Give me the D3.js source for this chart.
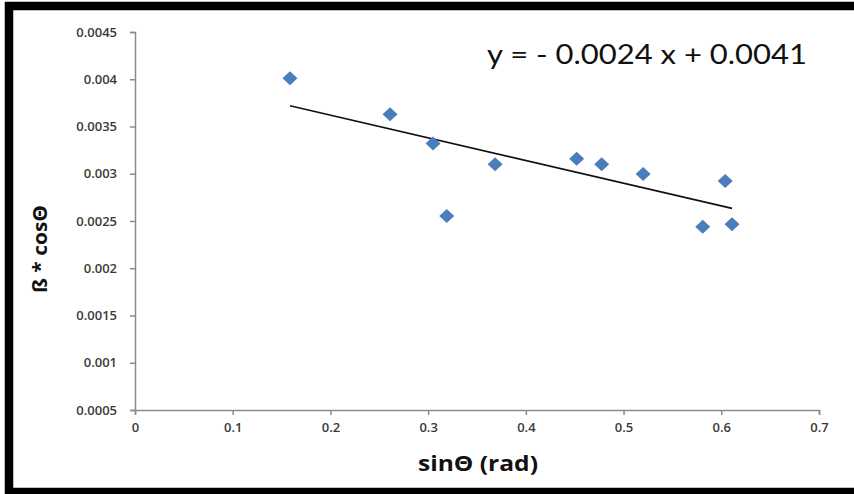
<!DOCTYPE html>
<html>
<head>
<meta charset="utf-8">
<script src="https://cdn.jsdelivr.net/npm/d3@7"></script>
<style>
  html, body { margin: 0; padding: 0; background: #fff; }
  svg { display: block; }
  .tick text { font-family: "Open Sans", sans-serif; font-size: 13px; font-weight: 600; fill: #3a3a3a; }
</style>
</head>
<body>
<svg id="chart" width="854" height="494"></svg>
<script>
// sinΘ values and the matching ß·cosΘ values
const sinTheta = [0.1586, 0.261, 0.305, 0.319, 0.3685, 0.452, 0.4776, 0.520, 0.581, 0.604, 0.611];
const betaCos  = [0.00401, 0.00363, 0.00332, 0.002553, 0.00310, 0.00316, 0.00310, 0.002997, 0.00244, 0.002923, 0.002465];

// linear fit shown on the chart
const slope = -0.0024;
const intercept = 0.0041;

const xTicks = [0, 0.1, 0.2, 0.3, 0.4, 0.5, 0.6, 0.7];
const yTicks = [0.0005, 0.001, 0.0015, 0.002, 0.0025, 0.003, 0.0035, 0.004, 0.0045];

const svg = d3.select("#chart");

// heavy black frame
svg.append("rect")
  .attr("x", 9).attr("y", 6)
  .attr("width", 870).attr("height", 486)
  .attr("fill", "#fff")
  .attr("stroke", "#000")
  .attr("stroke-width", 8.5);

const x = d3.scaleLinear().domain([0, 0.7]).range([135, 819]);
const y = d3.scaleLinear().domain([0.0005, 0.0045]).range([410, 32]);

const axisColor = "#8c8c8c";

const xAxis = svg.append("g")
  .attr("transform", `translate(0,${y(0.0005)})`)
  .call(d3.axisBottom(x).tickValues(xTicks).tickFormat(d => d3.format("")(d)).tickSize(5).tickPadding(8));
const yAxis = svg.append("g")
  .attr("transform", `translate(${x(0)},0)`)
  .call(d3.axisLeft(y).tickValues(yTicks).tickFormat(d => String(+d.toFixed(4))).tickSize(5).tickPadding(13));

[xAxis, yAxis].forEach(g => {
  g.select(".domain").attr("stroke", axisColor).attr("stroke-width", 1.5);
  g.selectAll(".tick line").attr("stroke", axisColor).attr("stroke-width", 1.5);
});

// trend line across the data range
const x0 = d3.min(sinTheta), x1 = d3.max(sinTheta);
svg.append("line")
  .attr("x1", x(x0)).attr("y1", y(slope * x0 + intercept))
  .attr("x2", x(x1)).attr("y2", y(slope * x1 + intercept))
  .attr("stroke", "#111")
  .attr("stroke-width", 1.6);

// diamond markers
const diamond = "M0,-7 L7.5,0 L0,7 L-7.5,0 Z";
svg.append("g").selectAll("path")
  .data(sinTheta.map((s, i) => [s, betaCos[i]]))
  .join("path")
  .attr("d", diamond)
  .attr("transform", d => `translate(${x(d[0])},${y(d[1])})`)
  .attr("fill", "#4A7EBB");

// equation label
svg.append("text")
  .attr("x", 487).attr("y", 64)
  .attr("font-family", "Lato, sans-serif")
  .attr("font-size", 27)
  .attr("fill", "#111")
  .attr("textLength", 320)
  .attr("lengthAdjust", "spacingAndGlyphs")
  .text(`y = - ${Math.abs(slope)} x + ${intercept}`);

// axis titles
svg.append("text")
  .attr("x", 478).attr("y", 471)
  .attr("text-anchor", "middle")
  .attr("font-family", "Open Sans, sans-serif")
  .attr("font-weight", "bold")
  .attr("font-size", 21)
  .attr("fill", "#111")
  .attr("textLength", 120)
  .attr("lengthAdjust", "spacingAndGlyphs")
  .text("sinΘ (rad)");

svg.append("text")
  .attr("transform", "translate(47,249) rotate(-90)")
  .attr("text-anchor", "middle")
  .attr("font-family", "Open Sans, sans-serif")
  .attr("font-weight", "bold")
  .attr("font-size", 20)
  .attr("fill", "#111")
  .attr("textLength", 88)
  .attr("lengthAdjust", "spacingAndGlyphs")
  .text("ß * cosΘ");
</script>
</body>
</html>
